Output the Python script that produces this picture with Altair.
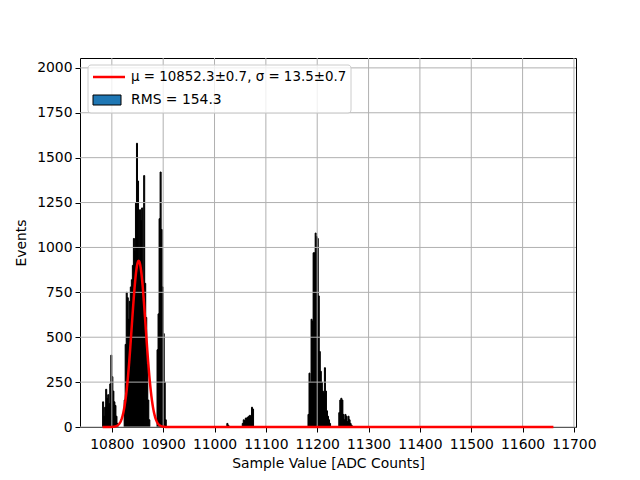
import altair as alt
import pandas as pd
import numpy as np

# Histogram bins (left edge, width 2 ADC counts) and counts
bin_left = [
    10782, 10784, 10786, 10788, 10790, 10792, 10794, 10796, 10798, 10800, 10802, 10804, 10806, 10808, 10810,
    10824, 10826, 10828, 10830, 10832, 10834, 10836, 10838, 10840, 10842, 10844, 10846, 10848, 10850,
    10852, 10854, 10856, 10858, 10860, 10862, 10864, 10866, 10868, 10870, 10872,
    10888, 10890, 10892, 10894, 10896, 10898, 10900, 10902, 10904,
    11024, 11026,
    11054, 11056, 11058, 11060, 11062, 11064, 11066, 11068, 11070, 11072, 11074,
    11182, 11184, 11186, 11188, 11190, 11192, 11194, 11196, 11198, 11200, 11202, 11204, 11206, 11208,
    11210, 11212, 11214, 11216, 11218, 11220, 11222, 11224,
    11242, 11244, 11246, 11248, 11250, 11252, 11254, 11256, 11258, 11260, 11262, 11264, 11266,
]
counts = [
    140, 60, 110, 210, 160, 180, 130, 240, 400, 280, 200, 140, 120, 60, 20,
    150, 460, 750, 720, 600, 700, 780, 820, 900, 1050, 980, 1250, 1580, 1370,
    860, 1210, 1150, 1220, 700, 1400, 800, 610, 350, 150, 40,
    430, 630, 1160, 1420, 1100, 780, 520, 250, 40,
    20, 10,
    20, 40, 35, 50, 50, 55, 60, 65, 60, 110, 100,
    70, 300, 250, 600, 590, 970, 970, 1080, 1060, 1050, 730, 420, 310, 250,
    200, 190, 330, 200, 90, 60, 40, 20,
    80, 150, 160, 150, 70, 40, 70, 60, 30, 60, 40, 20, 10,
]
bin_width = 2

# Gaussian fit parameters
fit_mu = 10852.3
fit_sigma = 13.5
fit_amp = 925
fit_range = [10782, 11660]

x_ticks = [10800, 10900, 11000, 11100, 11200, 11300, 11400, 11500, 11600, 11700]
y_ticks = [0, 250, 500, 750, 1000, 1250, 1500, 1750, 2000]

legend_fit = "μ = 10852.3±0.7, σ = 13.5±0.7"
legend_hist = "RMS = 154.3"

FONT = "DejaVu Sans"
FS = 13.9
W, H = 496, 369
XDOM = [10738, 11704]
YDOM = [0, 2055]
XT = "Sample Value [ADC Counts]"
YT = "Events"

hist_df = pd.DataFrame({"left": bin_left, "count": counts})
hist_df["right"] = hist_df["left"] + bin_width

xs = np.linspace(fit_range[0], fit_range[1], 2000)
fit_df = pd.DataFrame({"x": xs, "y": fit_amp * np.exp(-0.5 * ((xs - fit_mu) / fit_sigma) ** 2)})

xscale = alt.Scale(domain=XDOM, nice=False, zero=False)
yscale = alt.Scale(domain=YDOM, nice=False)

xaxis = alt.Axis(values=x_ticks, format="d", grid=False, labelFont=FONT, labelFontSize=FS,
                 labelColor="black", titleFont=FONT, titleFontSize=FS, titleFontWeight="normal",
                 titleColor="black", tickColor="black", tickSize=5, tickWidth=1, domain=False,
                 labelPadding=5, titlePadding=6, labelFlush=False)
yaxis = alt.Axis(values=y_ticks, format="d", grid=False, labelFont=FONT, labelFontSize=FS,
                 labelColor="black", titleFont=FONT, titleFontSize=FS, titleFontWeight="normal",
                 titleColor="black", tickColor="black", tickSize=5, tickWidth=1, domain=False,
                 labelPadding=3, titlePadding=8)


def X(field):
    return alt.X(field, scale=xscale, axis=xaxis, title=XT)


def Y(field):
    return alt.Y(field, scale=yscale, axis=yaxis, title=YT)


bars = alt.Chart(hist_df).mark_bar(fill="black", stroke="black", strokeWidth=1).encode(
    x=X("left:Q"),
    x2="right:Q",
    y=Y("count:Q"),
    y2=alt.datum(0),
)

xgrid = alt.Chart(pd.DataFrame({"t": x_ticks})).mark_rule(color="#b0b0b0", strokeWidth=1).encode(
    x=X("t:Q"))
ygrid = alt.Chart(pd.DataFrame({"t": y_ticks})).mark_rule(color="#b0b0b0", strokeWidth=1).encode(
    y=Y("t:Q"))

line = alt.Chart(fit_df).mark_line(color="red", strokeWidth=2.5).encode(
    x=X("x:Q"),
    y=Y("y:Q"),
)

one = pd.DataFrame({"a": [0]})
leg_box = alt.Chart(one).mark_rect(fill="white", fillOpacity=0.8, stroke="#cccccc", strokeWidth=1,
                                   cornerRadius=3).encode(
    x=alt.value(8), x2=alt.value(271), y=alt.value(7), y2=alt.value(55))
leg_line = alt.Chart(one).mark_rule(color="red", strokeWidth=2.5).encode(
    x=alt.value(13), x2=alt.value(45), y=alt.value(19))
leg_rect = alt.Chart(one).mark_rect(fill="#1f77b4", stroke="black", strokeWidth=1).encode(
    x=alt.value(13), x2=alt.value(41), y=alt.value(37), y2=alt.value(47))
leg_t1 = alt.Chart(one).mark_text(align="left", baseline="middle", font=FONT, fontSize=13.4,
                                  color="black").encode(
    x=alt.value(51), y=alt.value(19), text=alt.value(legend_fit))
leg_t2 = alt.Chart(one).mark_text(align="left", baseline="middle", font=FONT, fontSize=FS,
                                  color="black").encode(
    x=alt.value(51), y=alt.value(42), text=alt.value(legend_hist))

chart = alt.layer(bars, xgrid, ygrid, line, leg_box, leg_line, leg_rect, leg_t1, leg_t2).properties(
    width=W, height=H,
    autosize=alt.AutoSizeParams(type="none"),
    padding={"left": 72, "top": 50, "right": 56, "bottom": 45},
    background="white",
).configure_view(stroke="black", strokeWidth=1)

chart.save("out.html", embed_options={"renderer": "svg", "actions": False})
